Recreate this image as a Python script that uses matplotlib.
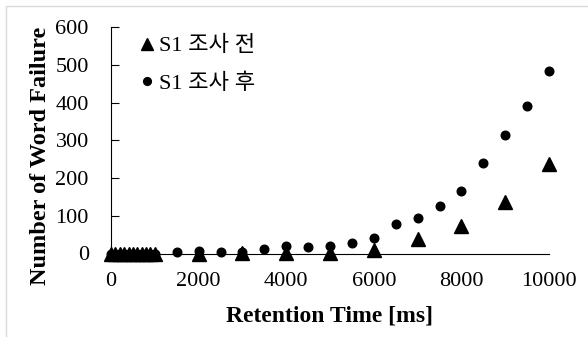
import numpy as np
import matplotlib
matplotlib.use("Agg")
import matplotlib.pyplot as plt
from matplotlib.patches import Rectangle

# Data
before_x = [0, 100, 200, 300, 400, 500, 600, 700, 800, 900, 1000,
            2000, 3000, 4000, 5000, 6000, 7000, 8000, 9000, 10000]
before_y = [0, 0, 0, 0, 0, 0, 0, 0, 0, 0, 0,
            0, 1, 1, 2, 8, 39, 73, 137, 237]

after_x = [0, 100, 200, 300, 400, 500, 600, 700, 800, 900, 1000,
           1500, 2000, 2500, 3000, 3500, 4000, 4500, 5000, 5500,
           6000, 6500, 7000, 7500, 8000, 8500, 9000, 9500, 10000]
after_y = [0, 0, 0, 0, 0, 0, 0, 0, 0, 0, 0,
           4, 7, 4, 5, 11, 20, 18, 20, 27,
           40, 77, 93, 125, 166, 240, 315, 392, 483]

labels = ['S1 조사 전', 'S1 조사 후']

plt.rcParams['font.family'] = ['Liberation Serif', 'Noto Sans CJK KR']

fig = plt.figure(figsize=(5.88, 3.37), dpi=100)
ax = fig.add_axes([111/588, (337-253.5)/337, 438/588, 226.5/337])

# light frame around the whole picture
fig.patches.append(Rectangle((6/588, -0.2), 2, 1.2 - 6/337, transform=fig.transFigure,
                             fill=False, edgecolor='#d9d9d9', linewidth=1.0))

ax.plot(before_x, before_y, linestyle='none', marker='^', markersize=9.5,
        color='black', clip_on=False, label=labels[0], zorder=3)
ax.plot(after_x, after_y, linestyle='none', marker='o', markersize=6.2,
        color='black', clip_on=False, label=labels[1], zorder=3)

ax.set_xlim(0, 10000)
ax.set_ylim(0, 600)
ax.set_xticks(np.arange(0, 10001, 2000))
ax.set_yticks(np.arange(0, 601, 100))

for s in ['top', 'right']:
    ax.spines[s].set_visible(False)
ax.spines['left'].set_linewidth(0.8)
ax.spines['bottom'].set_linewidth(0.8)
ax.tick_params(axis='y', direction='in', length=6, width=0.8, labelsize=16, pad=16)
ax.tick_params(axis='x', length=0, labelsize=16, pad=13)

ax.set_xlabel('Retention Time [ms]', fontsize=17, fontweight='bold', labelpad=10.5)
ax.set_ylabel('Number of Word Failure', fontsize=17.5, fontweight='bold')
ax.yaxis.set_label_coords(-0.137, 0.43)

leg = ax.legend(loc='upper left', bbox_to_anchor=(0.047, 1.0), frameon=False,
                handlelength=0.6, handletextpad=0.25, labelspacing=0.75,
                markerscale=0.9, fontsize=16, borderaxespad=0)

fig.savefig('out.png', dpi=100)
